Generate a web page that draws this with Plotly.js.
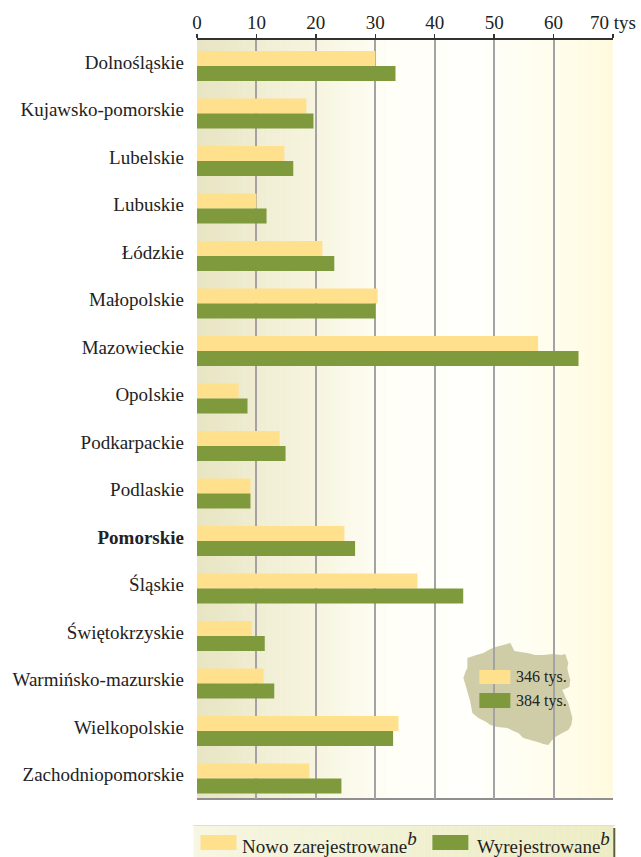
<!DOCTYPE html>
<html><head><meta charset="utf-8">
<script src="https://cdn.plot.ly/plotly-3.0.1.min.js"></script>
<style>html,body{margin:0;padding:0;background:#fff}</style></head>
<body><div id="chart" style="width:641px;height:857px"></div>
<script>
const categories = ["Dolnośląskie","Kujawsko-pomorskie","Lubelskie","Lubuskie","Łódzkie","Małopolskie","Mazowieckie","Opolskie","Podkarpackie","Podlaskie","<b>Pomorskie</b>","Śląskie","Świętokrzyskie","Warmińsko-mazurskie","Wielkopolskie","Zachodniopomorskie"];
const registered = [30.0,18.4,14.7,10.0,21.1,30.4,57.4,7.0,13.9,9.0,24.8,37.1,9.2,11.2,33.9,18.9];
const deregistered = [33.4,19.6,16.2,11.7,23.1,30.0,64.2,8.5,14.9,9.0,26.6,44.8,11.4,13.0,33.0,24.3];
const xTicks = [0,10,20,30,40,50,60,70];
const xTickText = ["0","10","20","30","40","50","60","70 tys"];
const mapX = [467,476,483,490,495,503,510,512,514,520,527,535,543,552,561,565,568,567,568,570,569,562,565,568,570,572,571,568,562,555,551,548,543,537,530,523,518,513,507,497,490,486,478,472,471,470,468,466,463,465,467];
const mapY = [658,655,653,649,647,645,643,647,651,652,653,655,655,654,655,654,663,668,673,680,687,690,697,703,710,718,725,730,733,737,741,745,744,742,740,738,733,731,728,727,725,722,718,713,708,702,695,688,678,672,668];
const YELLOW="#FFE08C", GREEN="#7E9A3C", FONT="Liberation Serif", INK="#222";
const idx = categories.map((_,i)=>i);
const W=641,H=857,L=196.5,R=612.7,T=40,B=799;
const px = x=>(x-L)/(R-L)*70, py = y=>(B-y)/(B-T);
function mix(a,b,t){return a.map((v,i)=>Math.round(v+(b[i]-v)*t));}
const stops=[[0,[232,229,196]],[20,[247,245,224]],[32,[255,254,247]],[46,[255,255,252]],[58,[255,253,238]],[70,[255,250,222]]];
function grad(x){for(let i=1;i<stops.length;i++){if(x<=stops[i][0]){const t=(x-stops[i-1][0])/(stops[i][0]-stops[i-1][0]);return "rgb("+mix(stops[i-1][1],stops[i][1],t).join(",")+")";}}return "rgb(255,250,222)";}
const shapes=[];
for(let x=0;x<70;x+=1){shapes.push({type:"rect",layer:"below",xref:"x",yref:"paper",x0:x,x1:x+1.05,y0:0,y1:1,line:{width:0},fillcolor:grad(x)});}
shapes.push({type:"line",layer:"between",xref:"x",yref:"paper",x0:0,x1:70,y0:0,y1:0,line:{color:"#8f8f8f",width:2}});
const mapPath="M"+mapX.map((x,i)=>px(x)+","+py(mapY[i])).join("L")+"Z";
shapes.push({type:"path",layer:"between",xref:"x",yref:"paper",path:mapPath,fillcolor:"#CFCDA8",line:{width:0}});
function pxRect(x0,x1,y0,y1,c,extra){return Object.assign({type:"rect",xref:"paper",yref:"paper",x0:(x0-L)/(R-L),x1:(x1-L)/(R-L),y0:py(y1),y1:py(y0),fillcolor:c,line:{width:0},layer:"above"},extra||{});}
shapes.push(pxRect(479,510,670,684,YELLOW));
shapes.push(pxRect(479,510,693,708,GREEN));
for(let i=0;i<60;i++){const a=193+i*7,t=i/59;shapes.push(pxRect(a,a+7.3,825,857,"rgb("+mix([246,246,226],[236,236,196],t).join(",")+")"));}
shapes.push(pxRect(193,615,825,826,"#dfe2c4"));
shapes.push(pxRect(200,236,835,850,YELLOW));
shapes.push(pxRect(432,468,835,850,GREEN));
shapes.push(pxRect(613,615,828,857,"#5b5f3c"));
function note(x,y,text,size,anchor){return {xref:"paper",yref:"paper",x:(x-L)/(R-L),y:py(y),text:text,showarrow:false,xanchor:anchor||"left",yanchor:"middle",font:{family:FONT,size:size,color:INK},borderpad:0};}
const SUP='<sup><span style="font-size:19px"><i>b</i></span></sup>';
const annotations=[
 note(515,677,"346 tys.",16),
 note(515,701,"384 tys.",16),
 note(241,842,"Nowo zarejestrowane"+SUP,19),
 note(476,842,"Wyrejestrowane"+SUP,19)
];
const data=[
 {type:"bar",orientation:"h",name:"Nowo zarejestrowane",x:registered,y:idx,marker:{color:YELLOW,line:{width:0}},hoverinfo:"x+y"},
 {type:"bar",orientation:"h",name:"Wyrejestrowane",x:deregistered,y:idx,marker:{color:GREEN,line:{width:0}},hoverinfo:"x+y"}
];
const layout={
 width:W,height:H,showlegend:false,paper_bgcolor:"#fff",plot_bgcolor:"#fff",
 margin:{l:L,r:W-R,t:T,b:H-B,pad:0},
 barmode:"group",bargap:0.37,bargroupgap:0,
 font:{family:FONT,color:INK,size:19},
 xaxis:{side:"top",range:[0,70],tickvals:xTicks,ticktext:xTickText,showgrid:true,gridcolor:"#a3a3a3",gridwidth:2,zeroline:false,
   showline:true,linecolor:"#333",linewidth:2,ticks:"outside",ticklen:4,tickcolor:"#333",tickwidth:1.5,ticklabelstandoff:-3,tickfont:{family:FONT,size:19,color:INK}},
 yaxis:{range:[15.43,-0.547],tickmode:"array",tickvals:idx,ticktext:categories,showgrid:false,zeroline:false,showline:false,ticks:"",ticklabelstandoff:12,ticklabelshift:4,tickfont:{family:FONT,size:19,color:INK}},
 shapes:shapes,annotations:annotations
};
Plotly.newPlot("chart",data,layout,{displayModeBar:false,staticPlot:true});
</script></body></html>
